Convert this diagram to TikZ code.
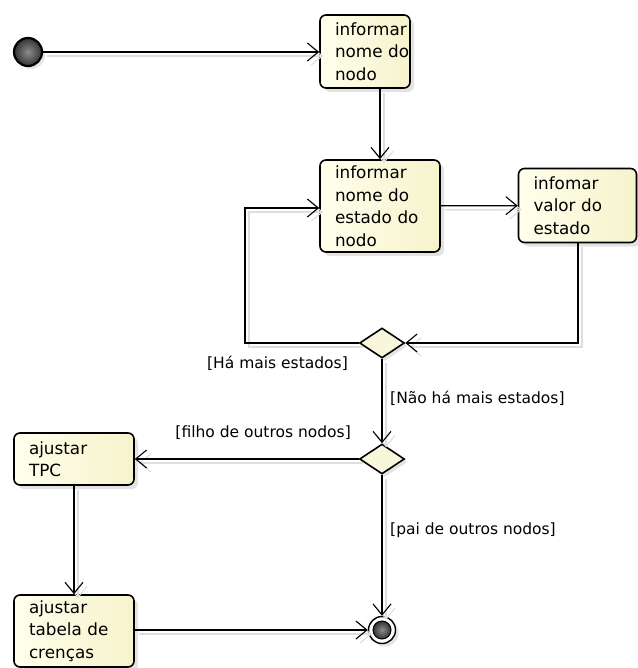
\documentclass[tikz,border=0pt]{standalone}
\usepackage{fontspec}
\setmainfont{DejaVu Sans}
\usetikzlibrary{arrows.meta,shapes.geometric,shadows}

\definecolor{actleft}{RGB}{255,255,236}
\definecolor{actright}{RGB}{246,243,204}
\definecolor{flowghost}{RGB}{222,222,222}

\tikzset{
  action/.style={rectangle, rounded corners=6pt, draw=black, line width=1.6pt,
    left color=actleft, right color=actright,
    drop shadow={shadow xshift=4pt, shadow yshift=-4pt, fill=black!22},
    inner xsep=0pt, inner ysep=0pt,
    execute at begin node={\raggedright\leftskip=15pt\parindent=0pt},
    font=\fontsize{16.8}{22.5}\selectfont},
  decision/.style={diamond, draw=black, line width=1.6pt, fill=actright!70,
    inner sep=0pt, minimum width=45pt, minimum height=30pt,
    drop shadow={shadow xshift=3pt, shadow yshift=-3pt, fill=black!22}},
  guard/.style={font=\fontsize{15.5}{19}\selectfont, inner sep=0pt},
  flow/.style={line width=1.2pt, -{Straight Barb[length=11pt,width=18pt,line width=1.1pt]},
    preaction={draw=flowghost, line width=1.6pt,
      transform canvas={shift={(4pt,-4pt)}}}},
}

\begin{document}
\begin{tikzpicture}[x=1pt,y=-1pt]
\useasboundingbox (0,0) rectangle (637,668);

% start and end points of the activity
\node[circle, draw=black, line width=2.2pt, minimum size=28pt, inner sep=0pt,
      inner color=black!45, outer color=black!80,
      drop shadow={shadow xshift=3pt, shadow yshift=-3pt, fill=black!20}] (start) at (28,52) {};
\node[circle, draw=black, line width=1.4pt, minimum size=27pt, inner sep=0pt, fill=white,
      drop shadow={shadow xshift=3pt, shadow yshift=-3pt, fill=black!20}] (stop) at (382,630) {};
\node[circle, draw=black, line width=1pt, minimum size=18pt, inner sep=0pt,
      inner color=black!45, outer color=black!80] (stopcore) at (382,630) {};

% actions
\node[action, text width=90pt, minimum height=73pt] (nome) at (365,51.5)
  {informar\\nome do\\nodo};
\node[action, text width=120pt, minimum height=92pt] (estado) at (380,206)
  {informar\\nome do\\estado do\\nodo};
\node[action, text width=118pt, minimum height=74pt] (valor) at (577.5,205.5)
  {infomar\\valor do\\estado};
\node[action, text width=120pt, minimum height=52pt] (tpc) at (74,459)
  {ajustar\\TPC};
\node[action, text width=120pt, minimum height=72pt] (tabela) at (74,631)
  {ajustar\\tabela de\\crenças};

% decisions
\node[decision] (mais) at (382,343) {};
\node[decision] (rel) at (382,459) {};

% helper corners of the loop back
\coordinate (loopdown) at (578,343);
\coordinate (loopleft) at (245,343);
\coordinate (loopup) at (245,208);

% connectors
\draw[flow] (start) -- (nome.west |- start);
\draw[flow] (estado.north |- nome.south) -- (estado.north);
\draw[flow] (estado) -- (valor);
\draw[flow] (valor.south -| loopdown) -- (loopdown) -- (mais.east);
\draw[flow] (mais.west) -- (loopleft) -- (loopup) -- (estado.west |- loopup);
\draw[flow] (mais.south) -- (rel.north);
\draw[flow] (rel.west) -- (tpc.east);
\draw[flow] (rel.south) -- (stop.north);
\draw[flow] (tpc.south) -- (tabela.north);
\draw[flow] (tabela.east |- stop) -- (stop.west);

% guards
\node[guard, anchor=east] (gmais) at (348,363) {[Há mais estados]};
\node[guard, anchor=west] (gnao) at (390,398) {[Não há mais estados]};
\node[guard, anchor=east] (gfilho) at (351,433) {[filho de outros nodos]};
\node[guard, anchor=west] (gpai) at (390,530) {[pai de outros nodos]};
\end{tikzpicture}
\end{document}
